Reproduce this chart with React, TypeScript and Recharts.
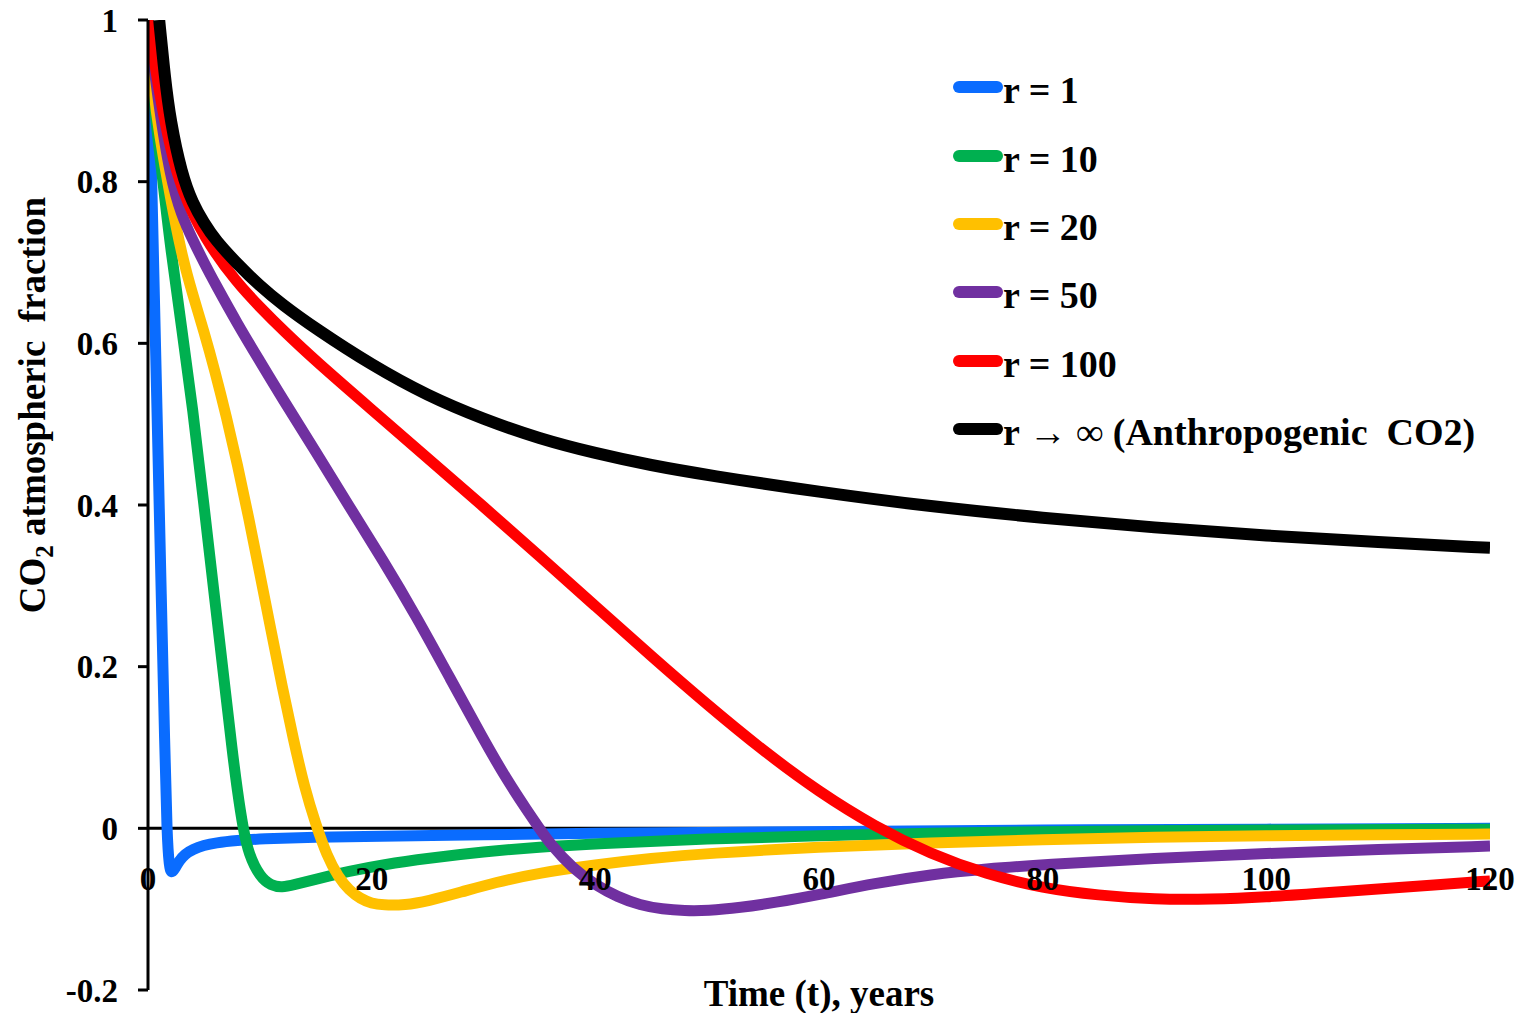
import React from 'react';
import { LineChart, Line, XAxis, YAxis, ReferenceLine, ReferenceDot, Legend, Label } from 'recharts';

const FONT = "'Liberation Serif', 'Times New Roman', serif";

const xTicks = [0, 20, 40, 60, 80, 100, 120];
const yTicks = [-0.2, 0, 0.2, 0.4, 0.6, 0.8, 1];

// [time (years), atmospheric fraction]
const r1 = [[0, 1], [0.4, 0.76], [0.8, 0.52], [1.2, 0.28], [1.5, 0.1], [1.7, -0.01], [1.9, -0.048], [2.1, -0.056], [2.4, -0.05], [2.8, -0.04], [3.3, -0.032], [4, -0.026], [5, -0.021], [6, -0.018], [8, -0.015], [10, -0.013], [15, -0.011], [20, -0.01], [30, -0.008], [40, -0.006], [50, -0.005], [60, -0.004], [80, -0.002], [100, -0.001], [120, 0]];
const r10 = [[0, 1], [0.5, 0.9], [1, 0.84], [1.5, 0.78], [2, 0.72], [3, 0.62], [4, 0.52], [5, 0.4], [6, 0.28], [7, 0.16], [7.5, 0.1], [8, 0.045], [8.5, 0], [9, -0.032], [10, -0.06], [11, -0.071], [12, -0.073], [13, -0.07], [15, -0.063], [18, -0.053], [21, -0.045], [25, -0.037], [30, -0.029], [35, -0.023], [40, -0.019], [50, -0.013], [60, -0.009], [70, -0.006], [80, -0.004], [90, -0.003], [100, -0.002], [120, -0.001]];
const r20 = [[0, 1], [0.5, 0.91], [1, 0.86], [2, 0.78], [3, 0.71], [4, 0.66], [5, 0.615], [6, 0.565], [7, 0.51], [8, 0.45], [9, 0.385], [10, 0.315], [11, 0.245], [12, 0.175], [13, 0.11], [14, 0.05], [15, 0.005], [16, -0.034], [17, -0.06], [18, -0.077], [19, -0.087], [20, -0.093], [21, -0.095], [23, -0.095], [25, -0.09], [28, -0.079], [31, -0.067], [35, -0.055], [40, -0.045], [45, -0.037], [50, -0.031], [60, -0.023], [70, -0.018], [80, -0.014], [90, -0.011], [100, -0.009], [110, -0.008], [120, -0.007]];
const r50 = [[0, 1], [1, 0.89], [2, 0.805], [3, 0.758], [4, 0.728], [5, 0.7], [6, 0.674], [8, 0.624], [10, 0.578], [12, 0.532], [15, 0.466], [18, 0.398], [21, 0.332], [24, 0.262], [27, 0.186], [30, 0.11], [32, 0.062], [34, 0.02], [35, 0.0], [36, -0.02], [38, -0.05], [40, -0.07], [42, -0.085], [44, -0.095], [46, -0.1], [48, -0.102], [50, -0.102], [53, -0.098], [56, -0.092], [60, -0.082], [65, -0.068], [70, -0.057], [75, -0.05], [80, -0.045], [90, -0.037], [100, -0.031], [110, -0.026], [120, -0.022]];
const r100 = [[0, 1], [1, 0.91], [2, 0.84], [3, 0.79], [5, 0.73], [8, 0.674], [10, 0.645], [12, 0.617], [15, 0.578], [20, 0.518], [25, 0.458], [30, 0.398], [35, 0.337], [40, 0.275], [45, 0.213], [50, 0.153], [55, 0.096], [60, 0.045], [65, 0.002], [70, -0.032], [75, -0.057], [80, -0.074], [85, -0.083], [90, -0.088], [95, -0.088], [100, -0.085], [105, -0.08], [110, -0.075], [115, -0.07], [120, -0.065]];
const rInf = [[1, 1], [1.5, 0.93], [2, 0.875], [3, 0.81], [4, 0.773], [5, 0.749], [6, 0.728], [8, 0.698], [10, 0.671], [12, 0.648], [15, 0.618], [20, 0.573], [25, 0.535], [30, 0.506], [35, 0.482], [40, 0.464], [45, 0.449], [50, 0.437], [60, 0.416], [70, 0.398], [80, 0.384], [90, 0.372], [100, 0.362], [110, 0.354], [120, 0.347]];

const series = [
  { name: 'r = 1', color: '#0A6CFF', points: r1, width: 11 },
  { name: 'r = 10', color: '#00B050', points: r10, width: 11 },
  { name: 'r = 20', color: '#FFC000', points: r20, width: 11 },
  { name: 'r = 50', color: '#7030A0', points: r50, width: 11 },
  { name: 'r = 100', color: '#FF0000', points: r100, width: 11 },
  { name: 'r \u2192 \u221E (Anthropogenic  CO2)', color: '#000000', points: rInf, width: 12 },
];

const toRows = (pts: number[][]) => pts.map(([t, v]) => ({ t, v }));

const renderLegend = (props: any) => {
  const payload: any[] = props.payload || [];
  const items = series.map((s) => payload.find((p) => p.value === s.name) || { value: s.name, color: s.color });
  return (
    <div style={{ fontFamily: FONT, fontWeight: 'bold', fontSize: 38, color: '#000' }}>
      {items.map((p: any) => (
        <div key={p.value} style={{ display: 'flex', alignItems: 'center', height: 68.4, whiteSpace: 'pre' }}>
          <span style={{ display: 'inline-block', width: 50, height: 12, borderRadius: 6, background: p.color }} />
          <span style={{ lineHeight: '38px', marginTop: 6 }}>{p.value}</span>
        </div>
      ))}
    </div>
  );
};

const YTitle = () => (
  <text transform="translate(45,405) rotate(-90)" textAnchor="middle" fontFamily={FONT} fontWeight="bold" fontSize={37} fill="#000" style={{ whiteSpace: 'pre' }}>
    CO<tspan fontSize={25} dy={8}>2</tspan><tspan dy={-8}>{' atmospheric  fraction'}</tspan>
  </text>
);

const XTitle = () => (
  <text x={819} y={1006} textAnchor="middle" fontFamily={FONT} fontWeight="bold" fontSize={37} fill="#000">
    Time (t), years
  </text>
);

export default function App() {
  return (
    <div style={{ position: 'absolute', left: 0, top: 0, background: '#fff' }}>
      <LineChart width={1517} height={1013} margin={{ top: 20, right: 27, left: 0, bottom: 0 }}>
        <XAxis
          dataKey="t"
          type="number"
          domain={[0, 120]}
          ticks={xTicks}
          allowDataOverflow
          tick={false}
          axisLine={false}
          tickLine={false}
          height={23}
        >
          <Label content={() => <XTitle />} />
        </XAxis>
        <YAxis
          type="number"
          domain={[-0.2, 1]}
          ticks={yTicks}
          interval={0}
          allowDataOverflow
          width={148}
          axisLine={{ stroke: '#000', strokeWidth: 3 }}
          tickLine={{ stroke: '#000', strokeWidth: 3 }}
          tickSize={10}
          tickMargin={20}
          tickFormatter={(v: number) => String(v)}
          tick={{ fill: '#000', fontSize: 33, fontWeight: 'bold', fontFamily: FONT }}
        >
          <Label content={() => <YTitle />} />
        </YAxis>
        <ReferenceLine y={0} stroke="#000" strokeWidth={3} />
        {series.map((s) => (
          <Line
            key={s.name}
            name={s.name}
            data={toRows(s.points)}
            dataKey="v"
            type="basis"
            stroke={s.color}
            strokeWidth={s.width}
            dot={false}
            activeDot={false}
            isAnimationActive={false}
          />
        ))}
        {xTicks.map((t) => (
          <ReferenceDot
            key={t}
            x={t}
            y={-0.062}
            r={0}
            stroke="none"
            fill="none"
            label={{ value: String(t), position: 'center', fill: '#000', fontSize: 33, fontWeight: 'bold', fontFamily: FONT }}
          />
        ))}
        <Legend
          layout="vertical"
          align="center"
          verticalAlign="middle"
          content={renderLegend}
          wrapperStyle={{ left: 953, top: 53, width: 560 }}
        />
      </LineChart>
    </div>
  );
}
